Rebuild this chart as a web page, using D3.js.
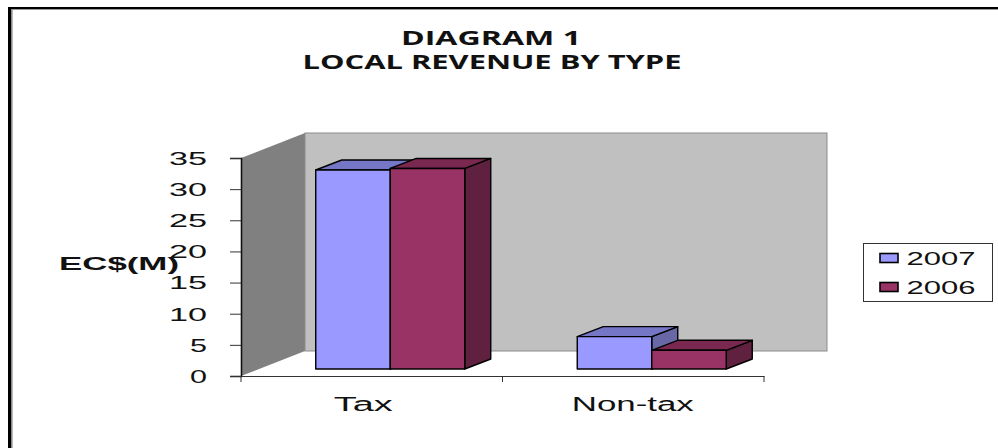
<!DOCTYPE html>
<html>
<head>
<meta charset="utf-8">
<script src="https://cdn.jsdelivr.net/npm/d3@7"></script>
<style>
html,body{margin:0;padding:0;background:#fff;overflow:hidden}
svg{display:block}
text{font-family:"Liberation Sans",Arial,sans-serif;fill:#111}
</style>
</head>
<body>
<svg id="chart" width="998" height="448"></svg>
<script>
const categories = ["Tax", "Non-tax"];
const seriesNames = ["2007", "2006"];
const values2007 = [31.95, 5.2];
const values2006 = [32.2, 3.0];
const yTicks = [0, 5, 10, 15, 20, 25, 30, 35];
const titleLines = ["DIAGRAM 1", "LOCAL REVENUE BY TYPE"];
const yAxisTitle = "EC$(M)";

const seriesValues = { "2007": values2007, "2006": values2006 };
const palette = {
  "2007": { front: "#9999FF", top: "#7676C6", side: "#6868A6" },
  "2006": { front: "#993366", top: "#7A2850", side: "#60203F" }
};

const svg = d3.select("#chart");

// layout
const axisLeft = 241, axisRight = 764, axisBottom = 376, axisTop = 158;
const wallDx = 64, wallDy = -25;          // floor depth of the 3D box
const planeDx = 18.5, planeDy = -7;       // front plane of the bars
const barDx = 26, barDy = -10;            // depth of each bar
const clusterW = 149;

const x = d3.scaleBand().domain(categories).range([axisLeft, axisRight]);
const sub = d3.scaleBand().domain(seriesNames).range([0, clusterW]);
const y = d3.scaleLinear().domain([0, 35]).range([axisBottom, axisTop]);

// outer frame
svg.append("rect").attr("x", 8).attr("y", 7).attr("width", 990).attr("height", 2.4).attr("fill", "#000");
svg.append("rect").attr("x", 8).attr("y", 7).attr("width", 3).attr("height", 441).attr("fill", "#000");
svg.append("rect").attr("x", 11).attr("y", 9).attr("width", 1.6).attr("height", 439).attr("fill", "#8a8a8a");

// walls
const wallLeft = axisLeft + wallDx, wallRight = axisRight + wallDx - 1;
const wallTop = y(35) + wallDy, wallBottom = y(0) + wallDy;
svg.append("polygon")
  .attr("points", [[axisLeft, y(35)], [wallLeft, wallTop], [wallLeft, wallBottom], [axisLeft, y(0)]].join(" "))
  .attr("fill", "#808080");
svg.append("rect")
  .attr("x", wallLeft).attr("y", wallTop)
  .attr("width", wallRight - wallLeft).attr("height", wallBottom - wallTop)
  .attr("fill", "#C0C0C0").attr("stroke", "#8c8c8c").attr("stroke-width", 1);

// bars: back to front so that the later, nearer faces overlap
seriesNames.forEach(name => {
  const c = palette[name];
  categories.forEach((cat, i) => {
    const v = seriesValues[name][i];
    const x0 = x(cat) + (x.bandwidth() - clusterW) / 2 + sub(name) + planeDx;
    const x1 = x0 + sub.bandwidth();
    const yB = y(0) + planeDy, yT = y(v) + planeDy;
    const g = svg.append("g").attr("stroke", "#000").attr("stroke-width", 1.4).attr("stroke-linejoin", "round");
    g.append("polygon")
      .attr("points", [[x1, yT], [x1 + barDx, yT + barDy], [x1 + barDx, yB + barDy], [x1, yB]].join(" "))
      .attr("fill", c.side);
    g.append("polygon")
      .attr("points", [[x0, yT], [x0 + barDx, yT + barDy], [x1 + barDx, yT + barDy], [x1, yT]].join(" "))
      .attr("fill", c.top);
    g.append("rect")
      .attr("x", x0).attr("y", yT).attr("width", x1 - x0).attr("height", yB - yT)
      .attr("fill", c.front);
  });
});

// y axis
const yAxis = svg.append("g")
  .attr("transform", `translate(${axisLeft},0)`)
  .call(d3.axisLeft(y).tickValues(yTicks).tickSize(11).tickFormat(d3.format("d")));
yAxis.select(".domain").attr("stroke", "#111").attr("stroke-width", 1.6);
yAxis.selectAll(".tick line").attr("stroke", "#333").attr("stroke-width", 1);
yAxis.selectAll(".tick text")
  .attr("x", -34)
  .attr("dy", "0.34em")
  .style("font-size", "18.5px")
  .attr("text-anchor", "end")
  .attr("textLength", d => String(d).length === 2 ? 38 : 17)
  .attr("lengthAdjust", "spacingAndGlyphs");

// x axis
const xAxis = svg.append("g")
  .attr("transform", `translate(0,${axisBottom})`)
  .call(d3.axisBottom(x).tickValues([]).tickSize(0));
xAxis.select(".domain").attr("stroke", "#333").attr("stroke-width", 1);
const xEdges = categories.map(c => x(c)).concat([axisRight]);
svg.selectAll(".xtick").data(xEdges).enter().append("line")
  .attr("class", "xtick")
  .attr("x1", d => d).attr("x2", d => d)
  .attr("y1", axisBottom).attr("y2", axisBottom + 6)
  .attr("stroke", "#333");

// category labels
const catWidths = [59, 122];
const catOffsets = [-8.5, -0.5];
svg.selectAll(".cat").data(categories).enter().append("text")
  .attr("class", "cat")
  .attr("x", (d, i) => x(d) + x.bandwidth() / 2 + catOffsets[i])
  .attr("y", 410.5)
  .attr("text-anchor", "middle")
  .style("font-size", "19.5px")
  .attr("textLength", (d, i) => catWidths[i])
  .attr("lengthAdjust", "spacingAndGlyphs")
  .text(d => d);

// title
const titleSpec = [{ x: 491, y: 45, w: 180 }, { x: 492, y: 69, w: 379 }];
svg.selectAll(".title").data(titleLines).enter().append("text")
  .attr("class", "title")
  .attr("x", (d, i) => titleSpec[i].x)
  .attr("y", (d, i) => titleSpec[i].y)
  .attr("text-anchor", "middle")
  .attr("textLength", (d, i) => titleSpec[i].w)
  .attr("lengthAdjust", "spacingAndGlyphs")
  .style("font-family", '"Open Sans",sans-serif')
  .style("font-weight", "700")
  .style("font-size", "19px")
  .text(d => d);

// y axis title
svg.append("text")
  .attr("x", 59).attr("y", 270)
  .attr("textLength", 120)
  .attr("lengthAdjust", "spacingAndGlyphs")
  .style("font-size", "18px")
  .style("font-weight", "700")
  .text(yAxisTitle);

// legend
svg.append("rect")
  .attr("x", 863.5).attr("y", 243.5).attr("width", 129).attr("height", 58)
  .attr("fill", "#fff").attr("stroke", "#333").attr("stroke-width", 1);
const leg = svg.selectAll(".leg").data(seriesNames).enter().append("g")
  .attr("class", "leg")
  .attr("transform", (d, i) => `translate(880,${253.5 + i * 29})`);
leg.append("rect")
  .attr("width", 18).attr("height", 9)
  .attr("fill", d => palette[d].front)
  .attr("stroke", "#000").attr("stroke-width", 1.6);
leg.append("text")
  .attr("x", 26.5).attr("y", 11)
  .attr("textLength", 69)
  .attr("lengthAdjust", "spacingAndGlyphs")
  .style("font-size", "18.5px")
  .text(d => d);
</script>
</body>
</html>
